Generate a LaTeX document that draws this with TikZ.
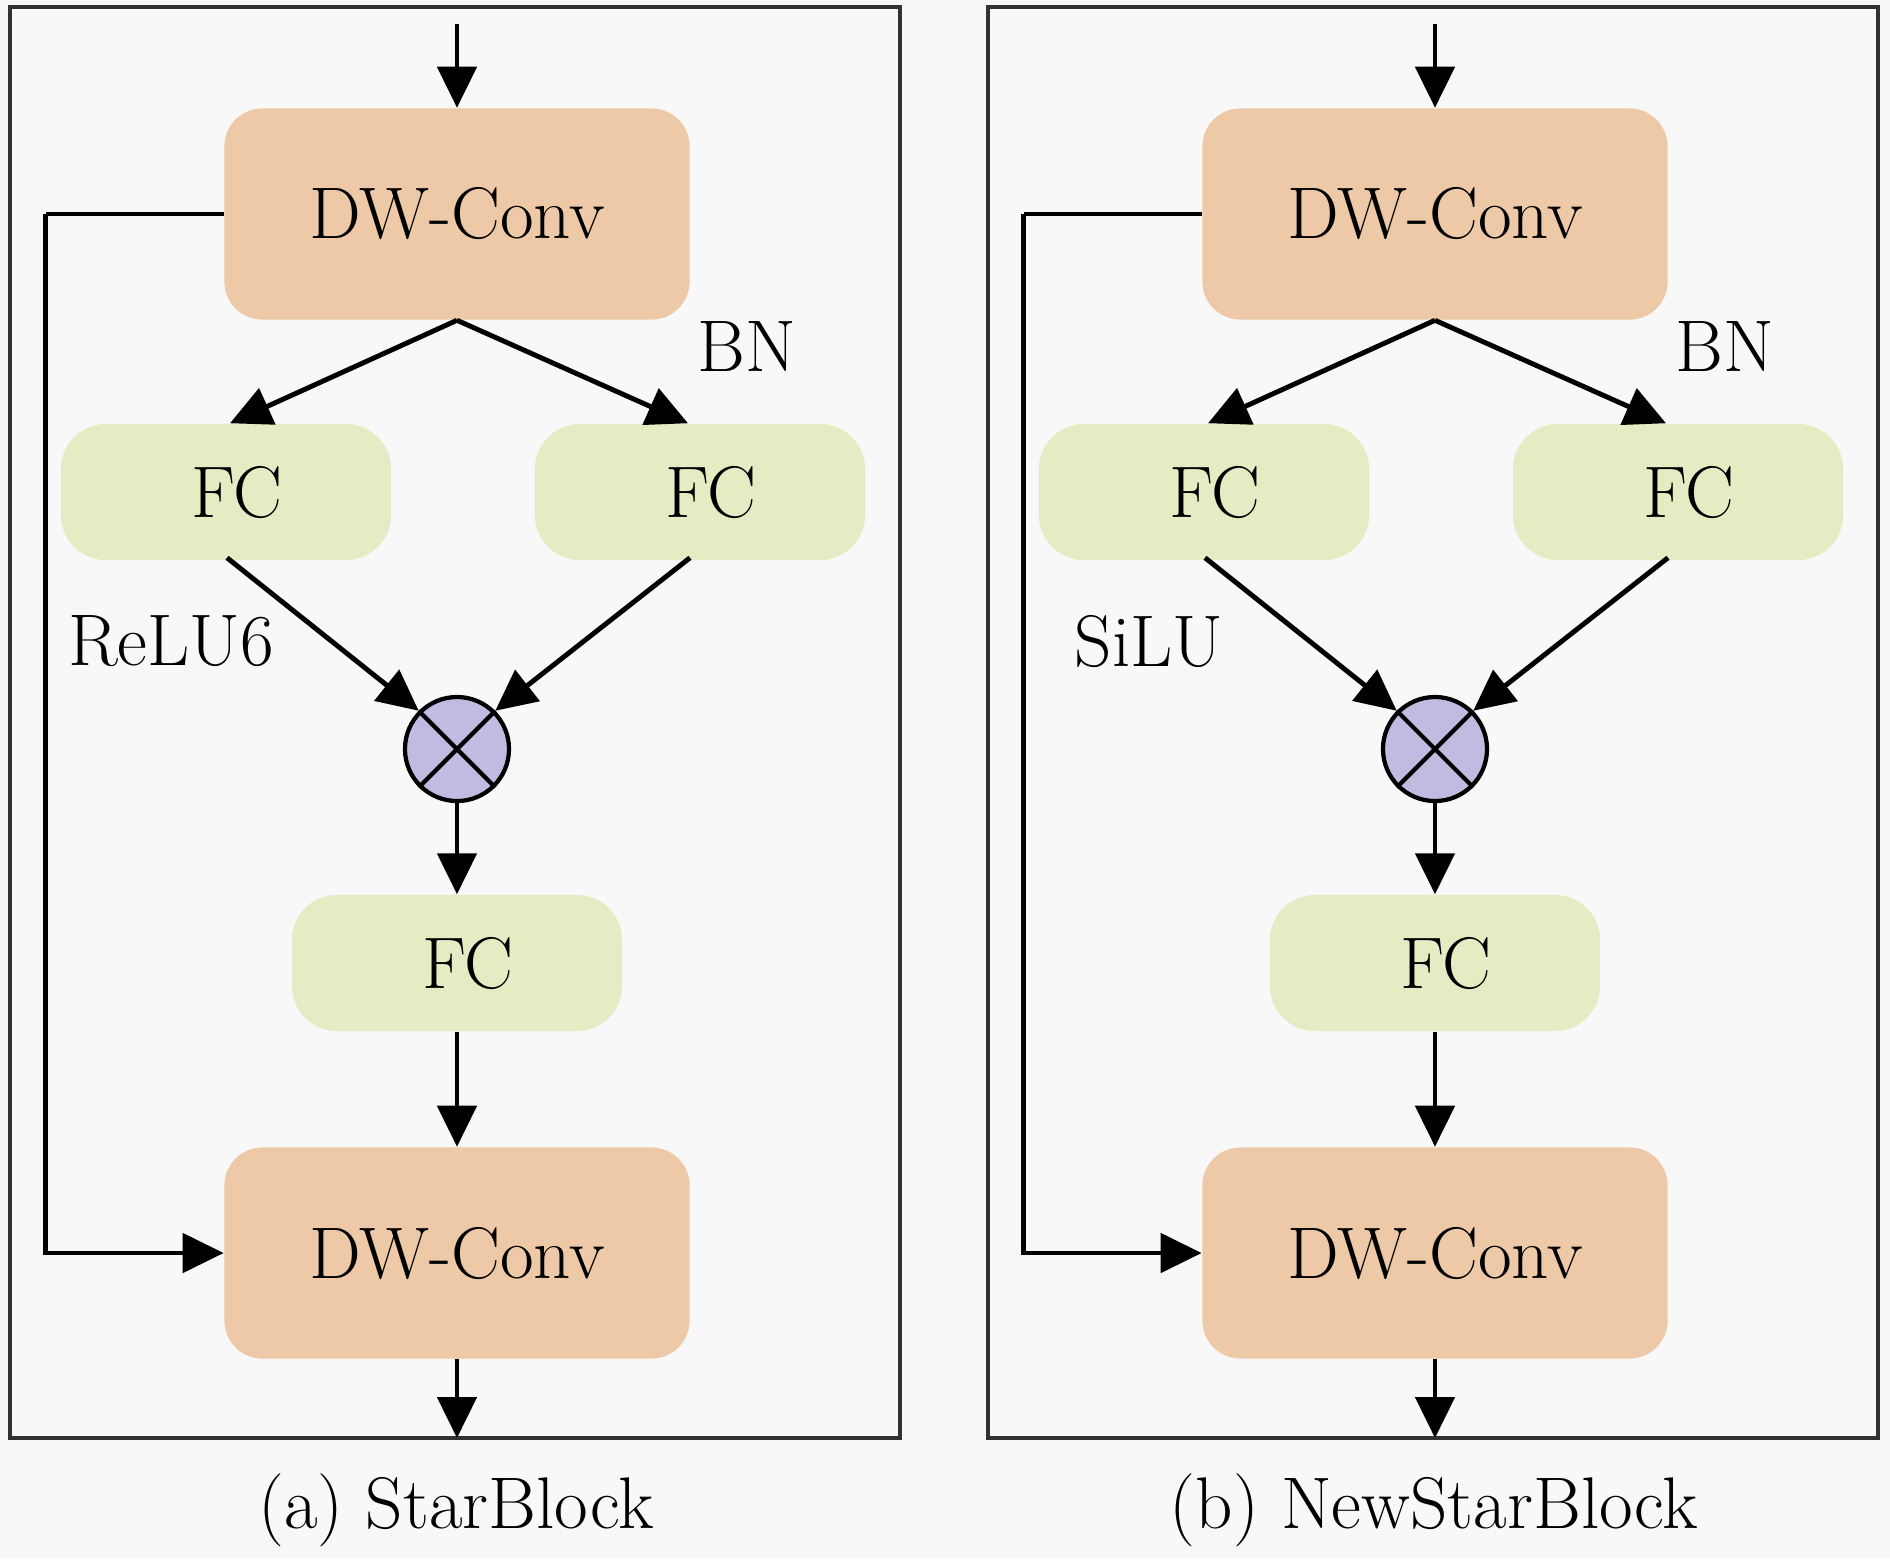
\documentclass[tikz,border=0pt]{standalone}
\usetikzlibrary{arrows.meta,calc}
\definecolor{bgc}{RGB}{248,248,248}
\definecolor{dwc}{RGB}{237,201,168}
\definecolor{fcc}{RGB}{231,235,196}
\definecolor{mulc}{RGB}{192,187,224}
\definecolor{framec}{RGB}{50,50,50}
\begin{document}
\begin{tikzpicture}[x=0.01cm,y=-0.01cm,
  txt/.style={font=\fontsize{20.8}{24}\selectfont},
  dwbox/.style={txt,fill=dwc,rounded corners=3.8mm,minimum width=4.65cm,minimum height=2.11cm,inner sep=0},
  fcbox/.style={txt,fill=fcc,rounded corners=4.5mm,minimum width=3.3cm,minimum height=1.36cm,inner sep=0},
  mulnode/.style={circle,draw,line width=1.2pt,fill=mulc,minimum size=1.04cm,inner sep=0},
  conn/.style={line width=1.4pt,-{Triangle[length=4.1mm,width=3.9mm]}},
  frm/.style={draw=framec,line width=1.2pt}]
\fill[bgc] (0,0) rectangle (1890,1559);
\useasboundingbox (0,0) rectangle (1890,1559);
\foreach \p/\dx/\act/\cap in {a/0/ReLU6/{(a) StarBlock},b/978/SiLU/{(b) NewStarBlock}}{
\begin{scope}[xshift=\dx*0.01cm]
  \draw[frm] (10,7) rectangle (900,1438);
  \node[dwbox] (dw1\p) at (457,214) {DW-Conv};
  \node[fcbox] (fc1\p) at (226,492) {\hspace*{2.2mm}FC};
  \node[fcbox] (fc2\p) at (700,492) {\hspace*{2.2mm}FC};
  \node[mulnode] (mul\p) at (457,749) {};
  \draw[line width=1.2pt] (mul\p.45) -- (mul\p.225) (mul\p.135) -- (mul\p.315);
  \node[fcbox] (fc3\p) at (457,963) {\hspace*{2.2mm}FC};
  \node[dwbox] (dw2\p) at (457,1253) {DW-Conv};
  \node[txt] (bn\p) at (747,347) {BN};
  \node[txt] (act\p) at (171,641) {\act};
  \node[txt] (cap\p) at (456,1510) {\cap};
  \coordinate (in\p) at (457,24);
  \coordinate (out\p) at (457,1438);
  \draw[conn] (in\p) -- (dw1\p.north);
  \draw[conn] (dw1\p.south) -- ($(fc1\p.north)+(4,0)$);
  \draw[conn] (dw1\p.south) -- ($(fc2\p.north)+(-12,0)$);
  \draw[conn] ($(fc1\p.south)+(1,-3)$) -- (mul\p.135);
  \draw[conn] ($(fc2\p.south)+(-10,-3)$) -- (mul\p.45);
  \draw[conn] (mul\p.south) -- (fc3\p.north);
  \draw[conn] (fc3\p.south) -- (dw2\p.north);
  \draw[conn] (dw2\p.south) -- (out\p);
  \draw[line width=1.4pt] (dw1\p.west) -- ++(-178,0) coordinate (sk\p);
  \draw[conn] (sk\p) |- (dw2\p.west);
\end{scope}}
\end{tikzpicture}
\end{document}
